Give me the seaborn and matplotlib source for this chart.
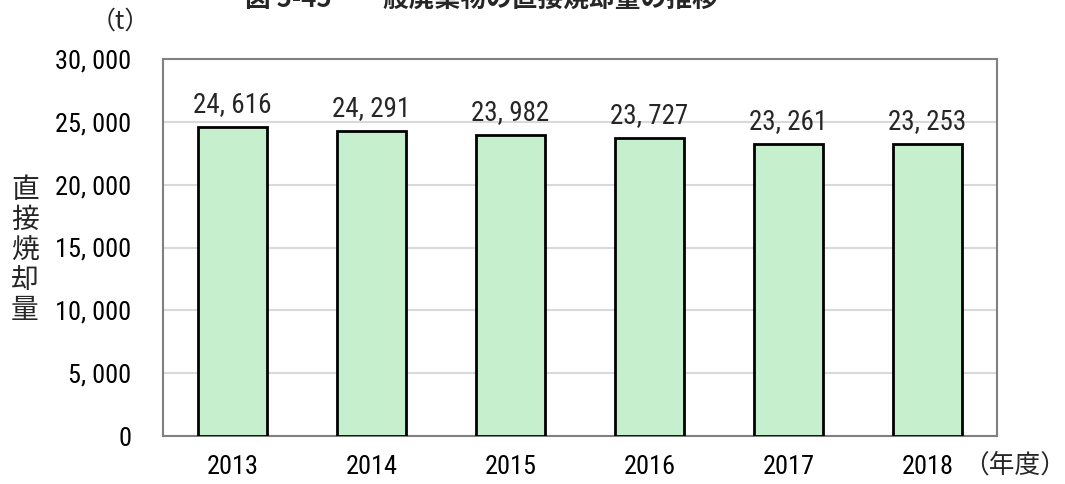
import matplotlib
matplotlib.use("Agg")
import matplotlib.pyplot as plt
import seaborn as sns
import pandas as pd
from matplotlib import font_manager

years = ["2013", "2014", "2015", "2016", "2017", "2018"]
amounts = [24616, 24291, 23982, 23727, 23261, 23253]
yticks = [0, 5000, 10000, 15000, 20000, 25000, 30000]

sns.set_theme(style="white")
installed = {f.name for f in font_manager.fontManager.ttflist}
narrow = next((n for n in ["Roboto Condensed", "Barlow Condensed", "Archivo Narrow", "Roboto"]
               if n in installed), "DejaVu Sans")
plt.rcParams["font.family"] = [narrow, "Noto Sans CJK JP", "DejaVu Sans"]
cjk = ["Noto Sans CJK JP", "DejaVu Sans"]

df = pd.DataFrame({"year": years, "amount": amounts})

fig = plt.figure(figsize=(10.65, 4.84), dpi=100)
ax = fig.add_axes([163 / 1065, 1 - 436 / 484, (997 - 163) / 1065, (436 - 59) / 484])

sns.barplot(data=df, x="year", y="amount", color="#c6efce", width=0.5,
            edgecolor="black", linewidth=2, saturation=1, ax=ax, zorder=3)

ax.set_ylim(0, 30000)
ax.set_yticks(yticks)
ax.set_yticklabels([f"{v:,}".replace(",", ", ") for v in yticks])
ax.yaxis.grid(True, color="#d9d9d9", linewidth=1.5, zorder=0)
ax.set_axisbelow(True)
for s in ax.spines.values():
    s.set_color("#808080")
    s.set_linewidth(1.5)
ax.tick_params(axis="both", length=0, labelsize=19, colors="black")
ax.tick_params(axis="y", pad=23)
ax.tick_params(axis="x", pad=14)
ax.set_xlabel("")
ax.set_ylabel("")

for i, v in enumerate(amounts):
    ax.annotate(f"{v:,}".replace(",", ", "), (i, v), xytext=(0, 6),
                textcoords="offset points", ha="center", va="bottom", fontsize=19.5)

fig.text(481 / 1065, 1 + 1 / 484, "図 5-45　一般廃棄物の直接焼却量の推移",
         ha="center", va="center", fontsize=18.5, fontweight="bold", family=cjk)
fig.text(120 / 1065, 1 - 22 / 484, "（t）", ha="center", va="center", fontsize=18, family=cjk)
fig.text(25 / 1065, 1 - 250 / 484, "直\n接\n焼\n却\n量", ha="center", va="center",
         fontsize=20, family=cjk, linespacing=1.0)
fig.text(1015 / 1065, 1 - 466 / 484, "（年度）", ha="center", va="center", fontsize=18.5, family=cjk)

fig.savefig("out.png", dpi=100)
